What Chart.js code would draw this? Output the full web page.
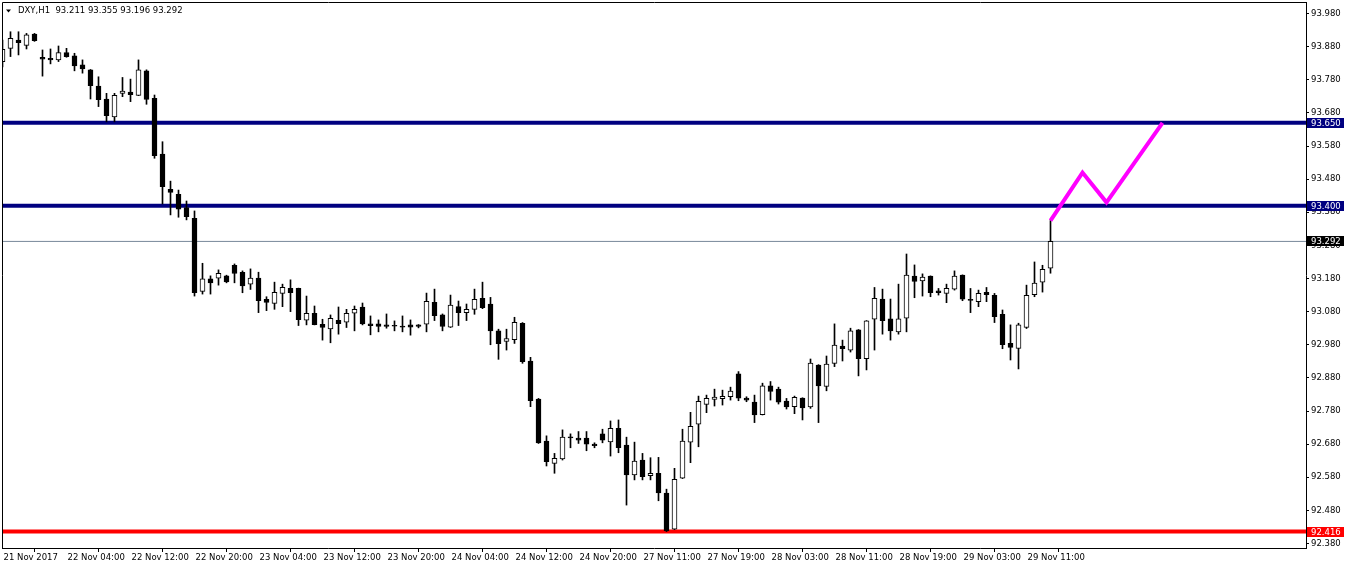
<!DOCTYPE html>
<html><head><meta charset="utf-8">
<script src="https://cdn.jsdelivr.net/npm/chart.js@4.4.0/dist/chart.umd.min.js"></script>
<style>html,body{margin:0;padding:0;background:#fff;overflow:hidden}</style>
</head><body>
<canvas id="c" width="1346" height="569"></canvas>
<script>
// ---------- data ----------
const symbolTitle = 'DXY,H1';
const opens = [93.835,93.875,93.900,93.884,93.918,93.848,93.845,93.840,93.862,93.852,
93.825,93.810,93.761,93.722,93.668,93.739,93.743,93.733,93.807,93.724,
93.556,93.449,93.434,93.394,93.362,93.141,93.179,93.181,93.188,93.220,
93.199,93.163,93.181,93.117,93.105,93.135,93.150,93.150,93.054,93.075,
93.042,93.028,93.054,93.048,93.075,93.094,93.043,93.043,93.040,93.038,
93.035,93.040,93.040,93.042,93.108,93.070,93.033,93.095,93.077,93.087,
93.120,93.103,93.022,92.990,92.995,93.045,92.931,92.816,92.689,92.622,
92.635,92.701,92.698,92.698,92.680,92.711,92.687,92.728,92.677,92.587,
92.632,92.585,92.592,92.532,92.423,92.577,92.686,92.740,92.800,92.815,
92.817,92.823,92.892,92.819,92.807,92.769,92.856,92.846,92.810,92.793,
92.819,92.792,92.919,92.854,92.924,92.976,92.964,93.025,92.938,93.057,
93.118,93.058,93.019,93.060,93.187,93.173,93.187,93.143,93.135,93.148,
93.190,93.116,93.110,93.138,93.129,93.072,92.984,92.969,93.032,93.131,
93.169,93.211];
const highs = [93.900,93.925,93.925,93.920,93.920,93.870,93.873,93.882,93.875,93.860,
93.840,93.811,93.789,93.739,93.739,93.787,93.782,93.840,93.810,93.734,
93.593,93.474,93.447,93.414,93.384,93.226,93.188,93.206,93.190,93.224,
93.203,93.209,93.199,93.125,93.169,93.163,93.176,93.151,93.127,93.097,
93.057,93.070,93.094,93.087,93.097,93.106,93.067,93.055,93.073,93.052,
93.067,93.055,93.041,93.136,93.148,93.073,93.130,93.112,93.103,93.148,
93.169,93.123,93.027,93.027,93.063,93.047,92.942,92.818,92.705,92.652,
92.723,92.711,92.718,92.718,92.684,92.725,92.750,92.753,92.701,92.686,
92.652,92.639,92.640,92.544,92.607,92.725,92.776,92.825,92.828,92.846,
92.843,92.852,92.899,92.823,92.828,92.864,92.869,92.852,92.818,92.825,
92.820,92.937,92.920,92.946,93.043,92.994,93.030,93.026,93.053,93.153,
93.148,93.118,93.163,93.254,93.221,93.194,93.188,93.150,93.163,93.203,
93.191,93.150,93.145,93.153,93.135,93.085,93.040,93.045,93.160,93.230,
93.220,93.355];
const lows = [93.819,93.850,93.855,93.873,93.896,93.791,93.828,93.835,93.848,93.807,
93.800,93.722,93.699,93.653,93.653,93.729,93.714,93.732,93.706,93.543,
93.405,93.372,93.365,93.357,93.127,93.133,93.133,93.160,93.167,93.167,
93.137,93.147,93.077,93.083,93.087,93.095,93.080,93.038,93.040,93.040,
92.994,92.986,93.012,93.032,93.022,93.040,93.010,93.019,93.030,93.022,
93.019,93.009,93.031,93.019,93.053,93.022,93.032,93.038,93.053,93.072,
93.089,92.980,92.936,92.964,92.984,92.924,92.793,92.682,92.614,92.592,
92.632,92.669,92.682,92.660,92.669,92.684,92.644,92.654,92.496,92.572,
92.572,92.572,92.509,92.416,92.422,92.576,92.624,92.672,92.775,92.795,
92.798,92.813,92.811,92.808,92.745,92.768,92.813,92.801,92.786,92.772,
92.753,92.788,92.745,92.841,92.914,92.931,92.958,92.886,92.904,92.964,
93.012,92.994,93.012,93.019,93.122,93.127,93.125,93.130,93.107,93.145,
93.113,93.077,93.095,93.110,93.047,92.968,92.934,92.907,93.029,93.125,
93.139,93.196];
const closes = [93.872,93.905,93.892,93.916,93.898,93.842,93.840,93.862,93.850,93.822,
93.813,93.762,93.720,93.672,93.733,93.746,93.735,93.810,93.721,93.551,
93.457,93.440,93.389,93.367,93.137,93.179,93.167,93.196,93.170,93.195,
93.158,93.181,93.113,93.108,93.138,93.153,93.137,93.056,93.075,93.041,
93.032,93.060,93.044,93.075,93.087,93.043,93.038,93.035,93.035,93.036,
93.033,93.033,93.035,93.111,93.068,93.035,93.100,93.077,93.087,93.117,
93.092,93.022,92.983,92.999,93.048,92.929,92.811,92.684,92.627,92.637,
92.701,92.699,92.692,92.680,92.675,92.692,92.728,92.669,92.587,92.629,
92.582,92.592,92.533,92.418,92.574,92.689,92.734,92.809,92.818,92.822,
92.824,92.840,92.819,92.813,92.768,92.856,92.839,92.807,92.792,92.821,
92.789,92.925,92.856,92.922,92.979,92.968,93.022,92.938,93.052,93.120,
93.053,93.022,93.058,93.190,93.171,93.184,93.137,93.137,93.150,93.187,
93.118,93.114,93.135,93.131,93.065,92.980,92.972,93.040,93.129,93.166,
93.208,93.292];
const xLabels = ['21 Nov 2017','22 Nov 04:00','22 Nov 12:00','22 Nov 20:00','23 Nov 04:00',
'23 Nov 12:00','23 Nov 20:00','24 Nov 04:00','24 Nov 12:00','24 Nov 20:00','27 Nov 11:00',
'27 Nov 19:00','28 Nov 03:00','28 Nov 11:00','28 Nov 19:00','29 Nov 03:00','29 Nov 11:00'];
const xLabelBars = [0,8,16,24,32,40,48,56,64,72,80,88,96,104,112,120,128];
const yTickValues = [93.980,93.880,93.780,93.680,93.580,93.480,93.380,93.280,93.180,
93.080,92.980,92.880,92.780,92.680,92.580,92.480,92.380];
const resistanceLevels = [93.650, 93.400];
const supportLevels = [92.416];
const bidPrice = 93.292;
const pathX = [131, 135, 138, 145];
const pathY = [93.355, 93.500, 93.410, 93.650];

// ---------- layout constants ----------
const X_MIN = -0.0625, X_MAX = 162.9375;
const Y_MIN = 92.3664, Y_MAX = 94.0148;
const FONT = {family: '"DejaVu Sans", sans-serif', size: 8.5};

const bodyData = opens.map((o, i) => ({x: i, y: [o, closes[i]]}));
const wickData = lows.map((l, i) => ({x: i, y: [l, highs[i]]}));
const isBull = i => closes[i] >= opens[i];

function hLine(v, color, width, order) {
  return {type: 'line', data: [{x: X_MIN, y: v}, {x: X_MAX, y: v}], borderColor: color,
    borderWidth: width, pointRadius: 0, order: order, borderCapStyle: 'butt'};
}

const datasets = [
  {type: 'bar', data: bodyData, barThickness: 5, grouped: false, minBarLength: 1,
   borderWidth: 1, borderSkipped: false, borderColor: '#000000',
   backgroundColor: c => isBull(c.dataIndex) ? '#ffffff' : '#000000', order: 1},
  {type: 'bar', data: wickData, barThickness: 1, grouped: false, borderWidth: 0,
   backgroundColor: '#000000', order: 2},
  {type: 'line', data: pathX.map((x, i) => ({x: x, y: pathY[i]})), borderColor: '#ff00ff',
   borderWidth: 4, pointRadius: 0, order: 0, borderJoinStyle: 'miter', tension: 0},
  ...resistanceLevels.map(v => hLine(v, '#000080', 4, 3)),
  ...supportLevels.map(v => hLine(v, '#ff0000', 4, 3)),
  hLine(bidPrice, '#778899', 1, 4)
];

const overlay = {
  id: 'overlay',
  afterDraw(chart) {
    const ctx = chart.ctx, a = chart.chartArea, ys = chart.scales.y;
    ctx.save();
    // frame left/top
    ctx.strokeStyle = '#000'; ctx.lineWidth = 1;
    ctx.beginPath();
    ctx.moveTo(2.5, a.bottom); ctx.lineTo(2.5, 2.5); ctx.lineTo(a.right + 0.5, 2.5);
    ctx.stroke();
    // price labels on axis
    ctx.font = FONT.size + 'px ' + FONT.family;
    ctx.textBaseline = 'middle'; ctx.textAlign = 'left';
    const boxes = [];
    resistanceLevels.forEach(v => boxes.push([v, '#000080']));
    boxes.push([bidPrice, '#000000']);
    supportLevels.forEach(v => boxes.push([v, '#ff0000']));
    boxes.forEach(([v, col]) => {
      const y = Math.round(ys.getPixelForValue(v));
      ctx.fillStyle = col;
      ctx.fillRect(a.right + 1, y - 5, 37, 10);
      ctx.fillStyle = '#ffffff';
      ctx.fillText(v.toFixed(3), a.right + 5, y + 0.5);
    });
    // header
    ctx.fillStyle = '#000';
    ctx.beginPath(); ctx.moveTo(6, 9.5); ctx.lineTo(11, 9.5); ctx.lineTo(8.5, 12.5); ctx.closePath(); ctx.fill();
    const n = opens.length - 1;
    const hdr = symbolTitle + '  ' + [opens[n], highs[n], lows[n], closes[n]].map(v => v.toFixed(3)).join(' ');
    ctx.fillText(hdr, 18, 11);
    ctx.restore();
  }
};

Chart.defaults.font.family = FONT.family;
Chart.defaults.font.size = FONT.size;
Chart.defaults.color = '#000';

new Chart(document.getElementById('c'), {
  type: 'bar',
  data: {datasets: datasets},
  plugins: [overlay],
  options: {
    responsive: false, animation: false, devicePixelRatio: 1, events: [],
    layout: {padding: {left: 2, top: 2, right: 0, bottom: 0}},
    plugins: {legend: {display: false}, tooltip: {enabled: false}, title: {display: false}},
    scales: {
      x: {
        type: 'linear', position: 'bottom', min: X_MIN, max: X_MAX, offset: false,
        grid: {display: true, drawOnChartArea: false, drawTicks: true, tickLength: 4, color: '#000'},
        border: {display: true, color: '#000'},
        ticks: {autoSkip: false, maxRotation: 0, minRotation: 0, align: 'start', padding: 1,
          labelOffset: 1, color: '#000', font: FONT,
          callback: (v, i) => xLabels[i]},
        afterBuildTicks: s => { s.ticks = xLabelBars.map(b => ({value: b})); },
        afterFit: s => { s.height = 21; s.paddingLeft = 0; s.paddingRight = 0; s.paddingTop = 0; s.paddingBottom = 0; }
      },
      y: {
        type: 'linear', position: 'right', min: Y_MIN, max: Y_MAX,
        grid: {display: true, drawOnChartArea: false, drawTicks: true, tickLength: 3, color: '#000'},
        border: {display: true, color: '#000'},
        ticks: {autoSkip: false, padding: 2, color: '#000', font: FONT,
          callback: v => Number(v).toFixed(3)},
        afterBuildTicks: s => { s.ticks = yTickValues.map(v => ({value: v})); },
        afterFit: s => { s.width = 40; s.paddingLeft = 0; s.paddingRight = 0; s.paddingTop = 0; s.paddingBottom = 0; }
      }
    }
  }
});
</script>
</body></html>
